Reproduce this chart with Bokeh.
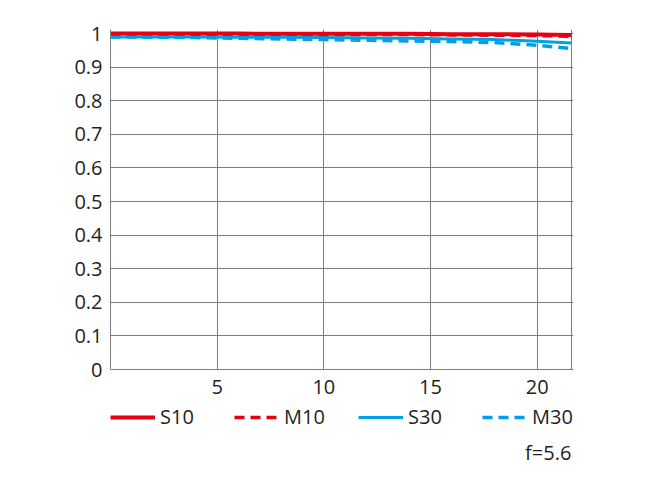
from bokeh.plotting import figure
from bokeh.models import Legend, LegendItem, Label, FixedTicker, Range1d
from bokeh.layouts import column
from bokeh.embed import file_html
from bokeh.resources import INLINE

x = [0, 2, 4, 6, 8, 10, 12, 14, 16, 18, 20, 21.6]
s10 = [1.0, 1.0, 1.0, 1.0, 0.999, 0.999, 0.999, 0.999, 0.998, 0.998, 0.997, 0.996]
m10 = [0.999, 0.999, 0.998, 0.998, 0.998, 0.997, 0.997, 0.997, 0.996, 0.995, 0.994, 0.992]
s30 = [0.990, 0.990, 0.990, 0.989, 0.989, 0.988, 0.987, 0.986, 0.984, 0.982, 0.977, 0.972]
m30 = [0.990, 0.989, 0.988, 0.986, 0.984, 0.982, 0.980, 0.978, 0.976, 0.973, 0.965, 0.955]
x_ticks = [5, 10, 15, 20]
x_grid = [5, 10, 15, 20, 21.6]
y_ticks = [0, 0.1, 0.2, 0.3, 0.4, 0.5, 0.6, 0.7, 0.8, 0.9, 1]
labels = ["S10", "M10", "S30", "M30"]
note = "f=5.6"

RED = "#e60012"
BLUE = "#00a0e9"
TXT = "#231f20"
GRID = "#7d7d7d"
FONT = "Open Sans"

PXX = 461 / 21.6
PXY = 336.0
XMAX, YMAX = 21.7, 1.012
FW = int(round(XMAX * PXX))
FH = int(round(YMAX * PXY))
TOP = 369 - FH
LEFT = 110
RIGHT = 650 - LEFT - FW

p = figure(frame_width=FW, frame_height=FH, output_backend="svg", toolbar_location=None,
           x_range=Range1d(0, XMAX), y_range=Range1d(0, YMAX),
           min_border_left=LEFT, min_border_right=RIGHT, min_border_top=TOP,
           min_border_bottom=35)
p.outline_line_color = None
p.background_fill_color = "white"
p.border_fill_color = "white"

for ax in (p.xaxis[0], p.yaxis[0]):
    ax.axis_line_color = GRID
    ax.major_tick_line_color = None
    ax.minor_tick_line_color = None
    ax.major_tick_out = 0
    ax.major_tick_in = 0
    ax.minor_tick_out = 0
    ax.major_label_text_font = FONT
    ax.major_label_text_font_size = "20px"
    ax.major_label_text_color = TXT
p.xaxis.ticker = FixedTicker(ticks=x_ticks)
p.yaxis.ticker = FixedTicker(ticks=y_ticks)
p.yaxis.major_label_overrides = {0: "0", 1: "1"}
p.yaxis.major_label_standoff = 8
p.xaxis.major_label_standoff = 10
p.xgrid.ticker = FixedTicker(ticks=x_grid)
p.ygrid.ticker = FixedTicker(ticks=y_ticks)
p.grid.grid_line_color = GRID
p.grid.grid_line_width = 1

styles = [dict(line_color=RED, line_width=4),
          dict(line_color=RED, line_width=3.5, line_dash="10 6"),
          dict(line_color=BLUE, line_width=3),
          dict(line_color=BLUE, line_width=3.5, line_dash="10 6")]
series = [s10, m10, s30, m30]
for ys, st in reversed(list(zip(series, styles))):
    p.line(x, ys, **st)

# legend / note strip (its y range starts above the data, so its own copies
# of the series stay out of view and only feed the legend swatches)
LH = 490 - (TOP + FH + 35)
Y0 = 5
q = figure(frame_width=FW, frame_height=LH, output_backend="svg", toolbar_location=None,
           x_range=Range1d(0, XMAX), y_range=Range1d(Y0, Y0 + LH),
           x_axis_location=None, y_axis_location=None,
           min_border_left=LEFT, min_border_right=RIGHT,
           min_border_top=0, min_border_bottom=0)
q.grid.visible = False
q.outline_line_color = None
q.border_fill_color = "white"
q.background_fill_color = "white"

items = []
for lab, ys, st in zip(labels, series, styles):
    r = q.line(x, ys, **st)
    items.append(LegendItem(label=lab, renderers=[r]))
legend = Legend(items=items, orientation="horizontal", location=(0, LH - 26),
                glyph_width=45, glyph_height=24, label_standoff=5,
                label_width=61, spacing=13, padding=0, margin=0,
                border_line_color=None, background_fill_alpha=0,
                label_text_font=FONT, label_text_font_size="20px",
                label_text_color=TXT)
q.add_layout(legend, "center")
q.add_layout(Label(x=21.6, y=Y0 + LH - 48, text=note, text_align="right",
                   text_baseline="middle", text_font=FONT,
                   text_font_size="20px", text_color=TXT))

layout = column(p, q, spacing=0)
open("out.html", "w").write(file_html(layout, INLINE))
